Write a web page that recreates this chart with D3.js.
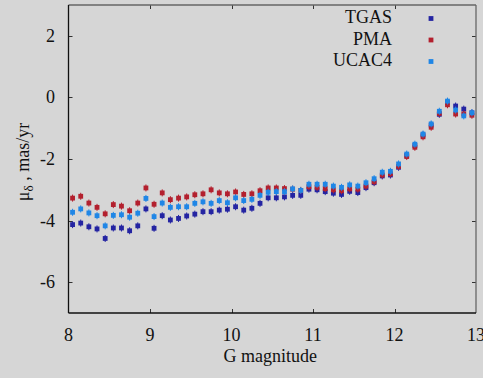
<!DOCTYPE html>
<html><head><meta charset="utf-8">
<script src="https://cdn.jsdelivr.net/npm/d3@7"></script>
</head><body style="margin:0;background:#d6d6d6">
<svg id="c" width="483" height="378" style="display:block"></svg>
<script>
const mags = [8.05,8.15,8.25,8.35,8.45,8.55,8.65,8.75,8.85,8.95,9.05,9.15,9.25,9.35,9.45,9.55,9.65,9.75,9.85,9.95,
  10.05,10.15,10.25,10.35,10.45,10.55,10.65,10.75,10.85,10.95,11.05,11.15,11.25,11.35,11.45,11.55,11.65,11.75,11.85,11.95,
  12.05,12.15,12.25,12.35,12.45,12.55,12.65,12.75,12.85,12.95];
const tgas = [-4.13,-4.08,-4.20,-4.27,-4.58,-4.24,-4.24,-4.33,-4.17,-3.62,-4.25,-3.84,-3.98,-3.93,-3.85,-3.79,-3.71,-3.71,-3.66,-3.63,
  -3.55,-3.66,-3.60,-3.44,-3.26,-3.26,-3.23,-3.18,-3.18,-2.98,-3.00,-3.06,-3.11,-3.15,-3.05,-3.09,-2.93,-2.77,-2.55,-2.52,
  -2.27,-1.88,-1.56,-1.22,-0.90,-0.55,-0.16,-0.28,-0.38,-0.50];
const pma = [-3.27,-3.21,-3.43,-3.57,-3.78,-3.48,-3.53,-3.68,-3.43,-2.94,-3.47,-3.10,-3.32,-3.27,-3.23,-3.16,-3.13,-3.00,-3.10,-3.13,
  -3.07,-3.15,-3.13,-3.03,-2.94,-2.94,-2.96,-2.98,-3.02,-2.90,-2.92,-2.96,-3.00,-3.03,-2.97,-2.98,-2.88,-2.74,-2.52,-2.48,
  -2.24,-1.92,-1.62,-1.28,-0.97,-0.52,-0.24,-0.54,-0.54,-0.58];
const ucac4 = [-3.73,-3.62,-3.75,-3.84,-4.17,-3.83,-3.81,-3.89,-3.76,-3.28,-3.87,-3.43,-3.57,-3.55,-3.55,-3.44,-3.39,-3.44,-3.35,-3.42,
  -3.26,-3.35,-3.31,-3.18,-3.08,-3.06,-3.06,-2.97,-3.02,-2.82,-2.82,-2.82,-2.88,-2.92,-2.84,-2.88,-2.77,-2.64,-2.43,-2.40,
  -2.16,-1.84,-1.52,-1.19,-0.86,-0.45,-0.12,-0.41,-0.60,-0.50];
const seriesNames = ["TGAS","PMA","UCAC4"];
const seriesColors = ["#2424a2","#b3202e","#1f86e6"];
const xTicks = [8,9,10,11,12,13];
const yTicks = [2,0,-2,-4,-6];

const svg = d3.select("#c");
const L = 68.5, R = 476, T = 5, B = 313;
const x = d3.scaleLinear().domain([8,13]).range([L,R]);
const y = d3.scaleLinear().domain([-7,3]).range([B,T]);

svg.append("rect").attr("width",483).attr("height",378).attr("fill","#d6d6d6");

// ticks (inward, all four sides)
const tk = svg.append("g").attr("stroke","#333").attr("stroke-width",1);
xTicks.slice(1,-1).forEach(v=>{
  const px = Math.round(x(v))+0.5;
  tk.append("line").attr("x1",px).attr("x2",px).attr("y1",B).attr("y2",B-4);
  tk.append("line").attr("x1",px).attr("x2",px).attr("y1",T).attr("y2",T+4);
});
yTicks.forEach(v=>{
  const py = Math.round(y(v))+0.5;
  tk.append("line").attr("x1",L).attr("x2",L+4).attr("y1",py).attr("y2",py);
  tk.append("line").attr("x1",R).attr("x2",R-4).attr("y1",py).attr("y2",py);
});

// data points: TGAS, PMA, UCAC4 order
const all = [tgas,pma,ucac4];
all.forEach((vals,si)=>{
  const g = svg.append("g").attr("fill",seriesColors[si]).attr("stroke",seriesColors[si]);
  mags.forEach((m,i)=>{
    const cx = x(m), cy = y(vals[i]);
    g.append("line").attr("x1",cx).attr("x2",cx).attr("y1",cy-3.5).attr("y2",cy+3.5).attr("stroke-width",1);
    g.append("rect").attr("x",cx-2.4).attr("y",cy-2.4).attr("width",4.8).attr("height",4.8).attr("stroke","none");
  });
});

// frame
svg.append("line").attr("x1",L).attr("x2",R).attr("y1",T).attr("y2",T).attr("stroke","#666").attr("stroke-width",1.3);
svg.append("line").attr("x1",R).attr("x2",R).attr("y1",T).attr("y2",B).attr("stroke","#666").attr("stroke-width",1.3);
svg.append("line").attr("x1",L).attr("x2",L).attr("y1",T).attr("y2",B).attr("stroke","#111").attr("stroke-width",1.3);
svg.append("line").attr("x1",L).attr("x2",R).attr("y1",B).attr("y2",B).attr("stroke","#111").attr("stroke-width",1.3);

function txt(){ return svg.append("text").style("font-family","'Liberation Serif'").attr("font-size",18).attr("fill","#111"); }

// tick labels
xTicks.forEach(v=>{
  txt().attr("x",x(v)).attr("y",341).attr("text-anchor","middle").text(v);
});
yTicks.forEach(v=>{
  txt().attr("x",55).attr("y",y(v)+6).attr("text-anchor","end").text(v<0?"-"+Math.abs(v):String(v));
});

// axis titles
txt().attr("x",(L+R)/2-2).attr("y",362).attr("text-anchor","middle").text("G magnitude");
const yl = txt().attr("transform","translate(29,162) rotate(-90)").attr("text-anchor","middle");
yl.append("tspan").text("μ");
yl.append("tspan").attr("dy",4).attr("font-size",13).text("δ");
yl.append("tspan").attr("dy",-4).text(" , mas/yr");

// legend
seriesNames.forEach((n,i)=>{
  const by = 23 + i*21.5;
  txt().attr("x",392).attr("y",by).attr("text-anchor","end").text(n);
  svg.append("rect").attr("x",431-2.4).attr("y",by-4.5-2.4).attr("width",4.8).attr("height",4.8)
    .attr("fill",seriesColors[i]);
});
</script>
</body></html>
